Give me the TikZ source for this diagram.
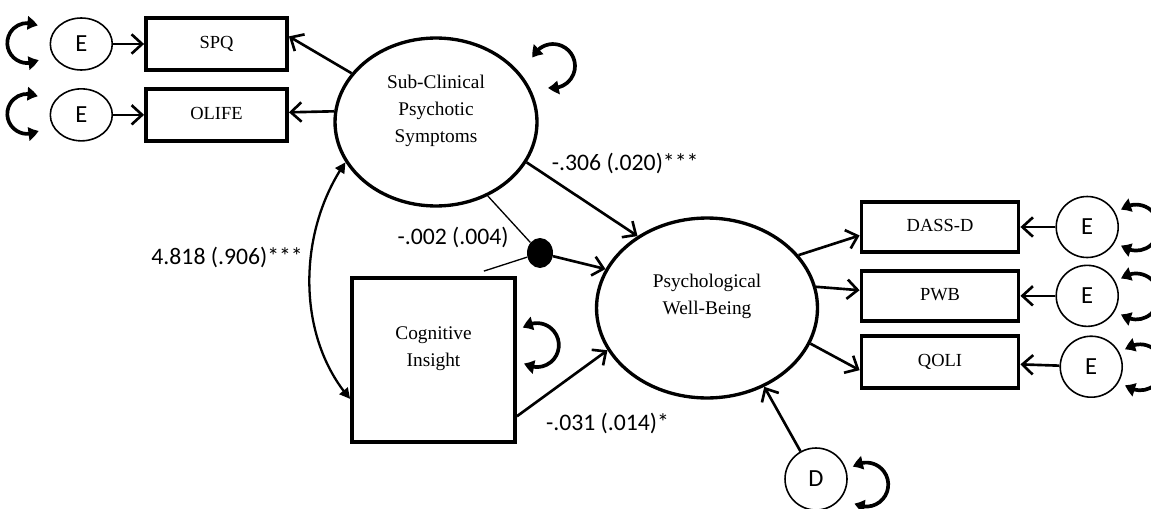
\documentclass[tikz,border=0pt]{standalone}
\usepackage{fontspec}
\setmainfont{Liberation Serif}
\newfontfamily\calib{Carlito}
\usetikzlibrary{arrows.meta, bending, positioning, shapes.geometric}

\begin{document}
\begin{tikzpicture}[
  x=0.02cm, y=0.02cm,
  latent/.style={draw, ellipse, line width=1.9pt, inner sep=0pt, align=center, font=\fontsize{11}{15.3}\selectfont},
  obs/.style={draw, rectangle, line width=2.2pt, inner sep=0pt, text depth=1.5pt, minimum width=3.14cm, minimum height=1cm, font=\fontsize{10.5}{12}\selectfont},
  err/.style={draw, ellipse, line width=0.9pt, inner sep=0pt, minimum width=1.24cm, minimum height=1.22cm, font=\calib\fontsize{14}{16}\selectfont},
  arr/.style={-{Straight Barb[length=6pt, width=11pt]}, line width=1.5pt},
  cov/.style={{Triangle[length=6pt, width=6pt]}-{Triangle[length=6pt, width=6pt]}, line width=1.3pt},
  sloop/.style={{Triangle[length=6pt, width=7.5pt, bend]}-{Triangle[length=6pt, width=7.5pt, bend]}, line width=2.1pt},
  modline/.style={line width=0.75pt},
  est/.style={font=\calib\fontsize{13.5}{16}\selectfont, inner sep=1pt}
]
\useasboundingbox (0,0) rectangle (1151,508);

% latent variables
\node[latent, minimum width=4.04cm, minimum height=3.36cm] (scps) at (436,386) {Sub-Clinical\\Psychotic\\Symptoms\\\mbox{}};
\node[latent, minimum width=4.42cm, minimum height=3.6cm] (pwbl) at (707,200) {Psychological\\Well-Being\\\mbox{}};
\node[obs, align=center, text depth=, minimum width=3.26cm, minimum height=3.28cm, font=\fontsize{11}{15.3}\selectfont] (cog) at (433.5,148) {Cognitive\\Insight\\\mbox{}};
\node[fill, ellipse, inner sep=0pt, minimum width=0.52cm, minimum height=0.6cm] (dot) at (540,255) {};

% indicators
\node[obs, minimum width=2.82cm, minimum height=1.04cm] (spq) at (216.5,464) {SPQ};
\node[obs, minimum width=2.82cm, minimum height=1.04cm, below=0.3cm of spq] (olife) {OLIFE};
\node[obs] (dassd) at (940,281) {DASS-D};
\node[obs, below=0.3cm of dassd] (pwb) {PWB};
\node[obs, minimum height=1.04cm, below=0.22cm of pwb] (qoli) {QOLI};

% errors
\node[err, minimum height=1.04cm, left=0.62cm of spq] (espq) {E};
\node[err, minimum height=1.04cm, left=0.62cm of olife] (eolife) {E};
\node[err, right=0.7cm of dassd] (edass) {E};
\node[err, right=0.7cm of pwb] (epwb) {E};
\node[err, right=0.78cm of qoli, yshift=-0.1cm] (eqoli) {E};
\node[err, minimum height=1.24cm] (dpwb) at (816,29) {D};

% measurement paths
\draw[arr] (espq) -- (spq);
\draw[arr] (eolife) -- (olife);
\draw[arr] (scps.150) -- (spq.6);
\draw[arr] (scps.174) -- (olife.2);
\draw[arr] (pwbl.30) -- (dassd.186);
\draw[arr] (pwbl.11) -- (pwb.176);
\draw[arr] (pwbl.-19) -- (qoli.186);
\draw[arr] (edass) -- (dassd);
\draw[arr] (epwb) -- (pwb);
\draw[arr] (eqoli) -- (qoli);

% structural paths
\draw[arr] (scps.-24) -- (pwbl.134) node[est, pos=0.2, anchor=south west] {-.306 (.020)***};
\draw[arr] (cog.-34) -- (pwbl.203) node[est, pos=0.1, anchor=north west, xshift=0.34cm] {-.031 (.014)*};
\draw[modline] (scps.-55) -- (dot) node[est, pos=0.9, left=0.3cm] {-.002 (.004)};
\draw[modline] ([yshift=0.1cm]cog.59) -- (dot);
\draw[arr] (dot) -- (pwbl.159);
\draw[arr] (dpwb) -- (pwbl.-54);
\draw[cov] (scps.204) to[out=235, in=131, looseness=0.9] node[est, pos=0.4, left=0.1cm] {4.818 (.906)***} (cog.205);

% variances
\foreach \n in {espq, eolife}
  \draw[sloop] ([shift={(-43.7,18.1)}]\n.center) arc[start angle=59, end angle=304, radius=20];
\foreach \n in {edass, epwb, eqoli}
  \draw[sloop] ([shift={(34,17)}]\n.center) arc[start angle=130, end angle=-130, radius=23];
\draw[sloop] ([shift={(96.6,64.2)}]scps.center) arc[start angle=158, end angle=-103, radius=22];
\draw[sloop] ([shift={(89.5,32)}]cog.center) arc[start angle=129, end angle=-125, radius=22];
\draw[sloop] ([shift={(37,12)}]dpwb.center) arc[start angle=127, end angle=-122, radius=22];
\end{tikzpicture}
\end{document}
